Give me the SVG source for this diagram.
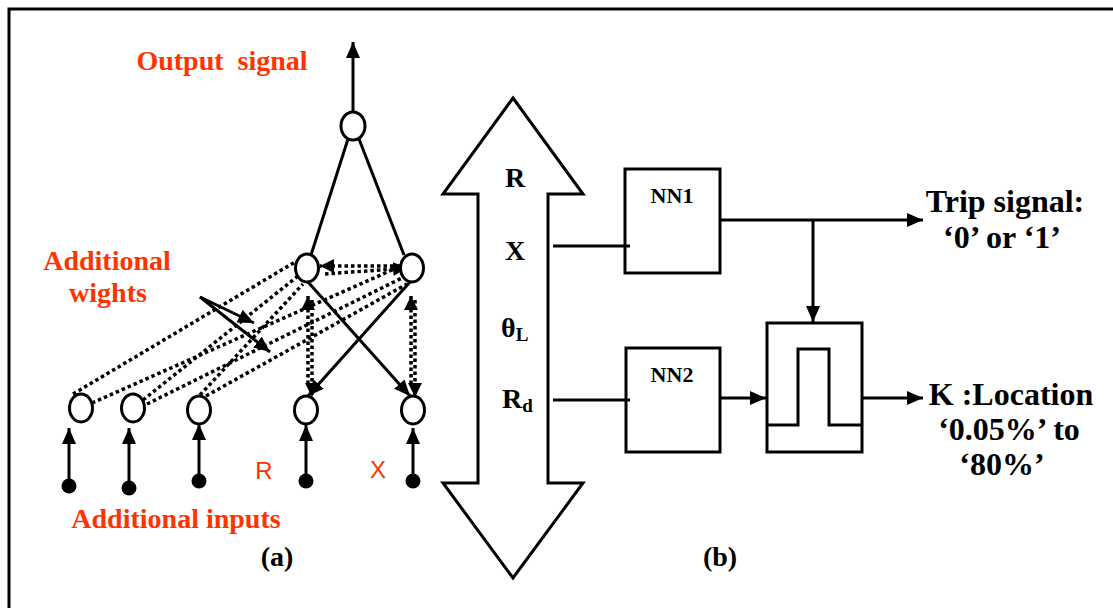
<svg xmlns="http://www.w3.org/2000/svg" width="1113" height="608" viewBox="0 0 1113 608">
<style>
.ln{stroke:#000;stroke-width:3;fill:none}
.dot{stroke:#000;stroke-width:3.5;fill:none;stroke-dasharray:3.5 3}
.nd{stroke:#000;stroke-width:3;fill:#fff}
.red{fill:#FF3300;font-family:"Liberation Serif",serif;font-weight:bold;font-size:28px}
.blk{fill:#000;font-family:"Liberation Serif",serif;font-weight:bold;font-size:28px}
.big{fill:#000;font-family:"Liberation Serif",serif;font-weight:bold;font-size:32px}
.sm{fill:#000;font-family:"Liberation Serif",serif;font-weight:bold;font-size:22px}
.sans{fill:#FF3300;font-family:"Liberation Sans",sans-serif;font-size:24px}
</style>
<defs>
<marker id="ah" viewBox="0 0 16 14" refX="16" refY="7" markerWidth="16" markerHeight="14" markerUnits="userSpaceOnUse" orient="auto">
<path d="M0,0 L16,7 L0,14 Z" fill="#000"/>
</marker>
<marker id="ahs" viewBox="0 0 14 14" refX="14" refY="7" markerWidth="14" markerHeight="14" markerUnits="userSpaceOnUse" orient="auto">
<path d="M0,0 L14,7 L0,14 Z" fill="#000"/>
</marker>
</defs>
<rect width="1113" height="608" fill="#fff"/>
<path d="M9,608 V9 H1113" class="ln" stroke-width="3.5"/>

<g id="connectors">
<line x1="353" y1="112" x2="353" y2="42" class="ln" marker-end="url(#ah)"/>
<line x1="348" y1="139" x2="311" y2="255" class="ln"/>
<line x1="359" y1="139" x2="404" y2="255" class="ln"/>
<line x1="69" y1="485" x2="69" y2="428" class="ln" marker-end="url(#ah)"/>
<line x1="129" y1="487" x2="129" y2="428" class="ln" marker-end="url(#ah)"/>
<line x1="199" y1="480" x2="199" y2="424" class="ln" marker-end="url(#ah)"/>
<line x1="306" y1="480" x2="306" y2="425" class="ln" marker-end="url(#ah)"/>
<line x1="413" y1="480" x2="413" y2="428" class="ln" marker-end="url(#ah)"/>
<line x1="308" y1="282" x2="410" y2="396" class="ln" marker-end="url(#ah)"/>
<line x1="410" y1="282" x2="308" y2="396" class="ln" marker-end="url(#ah)"/>
<line x1="308" y1="384" x2="308" y2="296" class="dot" marker-end="url(#ahs)"/>
<line x1="312" y1="300" x2="312" y2="397" class="dot" marker-end="url(#ahs)"/>
<line x1="411" y1="384" x2="411" y2="296" class="dot" marker-end="url(#ahs)"/>
<line x1="415" y1="300" x2="415" y2="397" class="dot" marker-end="url(#ahs)"/>
<line x1="400" y1="266" x2="320" y2="266" class="dot" marker-end="url(#ahs)"/>
<line x1="325" y1="274" x2="407" y2="268" class="dot" marker-end="url(#ahs)"/>
<line x1="73" y1="394" x2="295" y2="262" class="dot"/>
<line x1="92" y1="403" x2="401" y2="266" class="dot"/>
<line x1="143" y1="400" x2="298" y2="276" class="dot"/>
<line x1="147" y1="404" x2="404" y2="277" class="dot"/>
<line x1="200" y1="395" x2="303" y2="284" class="dot"/>
<line x1="206" y1="396" x2="407" y2="284" class="dot"/>
<line x1="200" y1="297" x2="254" y2="323" class="ln" marker-end="url(#ah)"/>
<line x1="200" y1="297" x2="270" y2="352" class="ln" marker-end="url(#ah)"/>
<line x1="553" y1="246" x2="630" y2="246" class="ln"/>
<line x1="553" y1="400" x2="630" y2="400" class="ln"/>
<line x1="720" y1="220" x2="923" y2="220" class="ln" marker-end="url(#ah)"/>
<line x1="813" y1="220" x2="813" y2="322" class="ln" marker-end="url(#ah)"/>
<line x1="720" y1="398" x2="766" y2="398" class="ln" marker-end="url(#ah)"/>
<line x1="862" y1="398" x2="923" y2="398" class="ln" marker-end="url(#ah)"/>
</g>

<g id="input-dots">
<circle cx="69" cy="486" r="7.5"/>
<circle cx="129" cy="488" r="7.5"/>
<circle cx="199" cy="481" r="7.5"/>
<circle cx="306" cy="481" r="7.5"/>
<circle cx="413" cy="481" r="7.5"/>
</g>

<g id="n-out"><ellipse cx="353" cy="126" rx="12" ry="14" class="nd"/></g>
<g id="n-h1"><ellipse cx="307" cy="268" rx="11.5" ry="14" class="nd"/></g>
<g id="n-h2"><ellipse cx="412" cy="268" rx="11.5" ry="14" class="nd"/></g>
<g id="n-i1"><ellipse cx="81" cy="408" rx="11.5" ry="14" class="nd"/></g>
<g id="n-i2"><ellipse cx="133" cy="408" rx="11.5" ry="14" class="nd"/></g>
<g id="n-i3"><ellipse cx="199" cy="410" rx="11.5" ry="14" class="nd"/></g>
<g id="n-i4"><ellipse cx="306" cy="410" rx="11.5" ry="14" class="nd"/></g>
<g id="n-i5"><ellipse cx="413" cy="410" rx="11.5" ry="14" class="nd"/></g>

<g id="labels-a">
<text class="red" x="222" y="70" text-anchor="middle">Output&#160; signal</text>
<text class="red" x="107" y="270" text-anchor="middle">Additional</text>
<text class="red" x="108" y="302" text-anchor="middle">wights</text>
<text class="red" x="176" y="528" text-anchor="middle">Additional inputs</text>
<text class="sans" x="264" y="479" text-anchor="middle">R</text>
<text class="sans" x="378" y="478" text-anchor="middle">X</text>
<text class="blk" x="277" y="566" text-anchor="middle">(a)</text>
<text class="blk" x="720" y="566" text-anchor="middle">(b)</text>
</g>

<g id="bus">
<path d="M513,98 L583,194 L548,194 L548,483 L583,483 L513,578 L443,483 L478,483 L478,194 L443,194 Z" class="ln"/>
<text class="blk" x="515" y="187" text-anchor="middle">R</text>
<text class="blk" x="515" y="260" text-anchor="middle">X</text>
<text class="blk" x="501" y="337">θ<tspan font-size="19" dy="4">L</tspan></text>
<text class="blk" x="502" y="408">R<tspan font-size="19" dy="4">d</tspan></text>
</g>

<g id="nn1">
<rect x="625" y="169" width="95" height="104" class="ln"/>
<text class="sm" x="672" y="203" text-anchor="middle">NN1</text>
</g>
<g id="nn2">
<rect x="626" y="348" width="94" height="104" class="ln"/>
<text class="sm" x="672" y="382" text-anchor="middle">NN2</text>
</g>
<g id="pulse">
<rect x="767" y="323" width="95" height="129" class="ln"/>
<path d="M767,425 H798 V349 H829 V425 H862" class="ln"/>
</g>

<g id="labels-b">
<text class="big" x="1005" y="212" text-anchor="middle">Trip signal:</text>
<text class="big" x="1002" y="248" text-anchor="middle">‘0’ or ‘1’</text>
<text class="big" x="1011" y="405" text-anchor="middle">K :Location</text>
<text class="big" x="1009" y="440" text-anchor="middle">‘0.05%’ to</text>
<text class="big" x="1002" y="475" text-anchor="middle">‘80%’</text>
</g>
</svg>
